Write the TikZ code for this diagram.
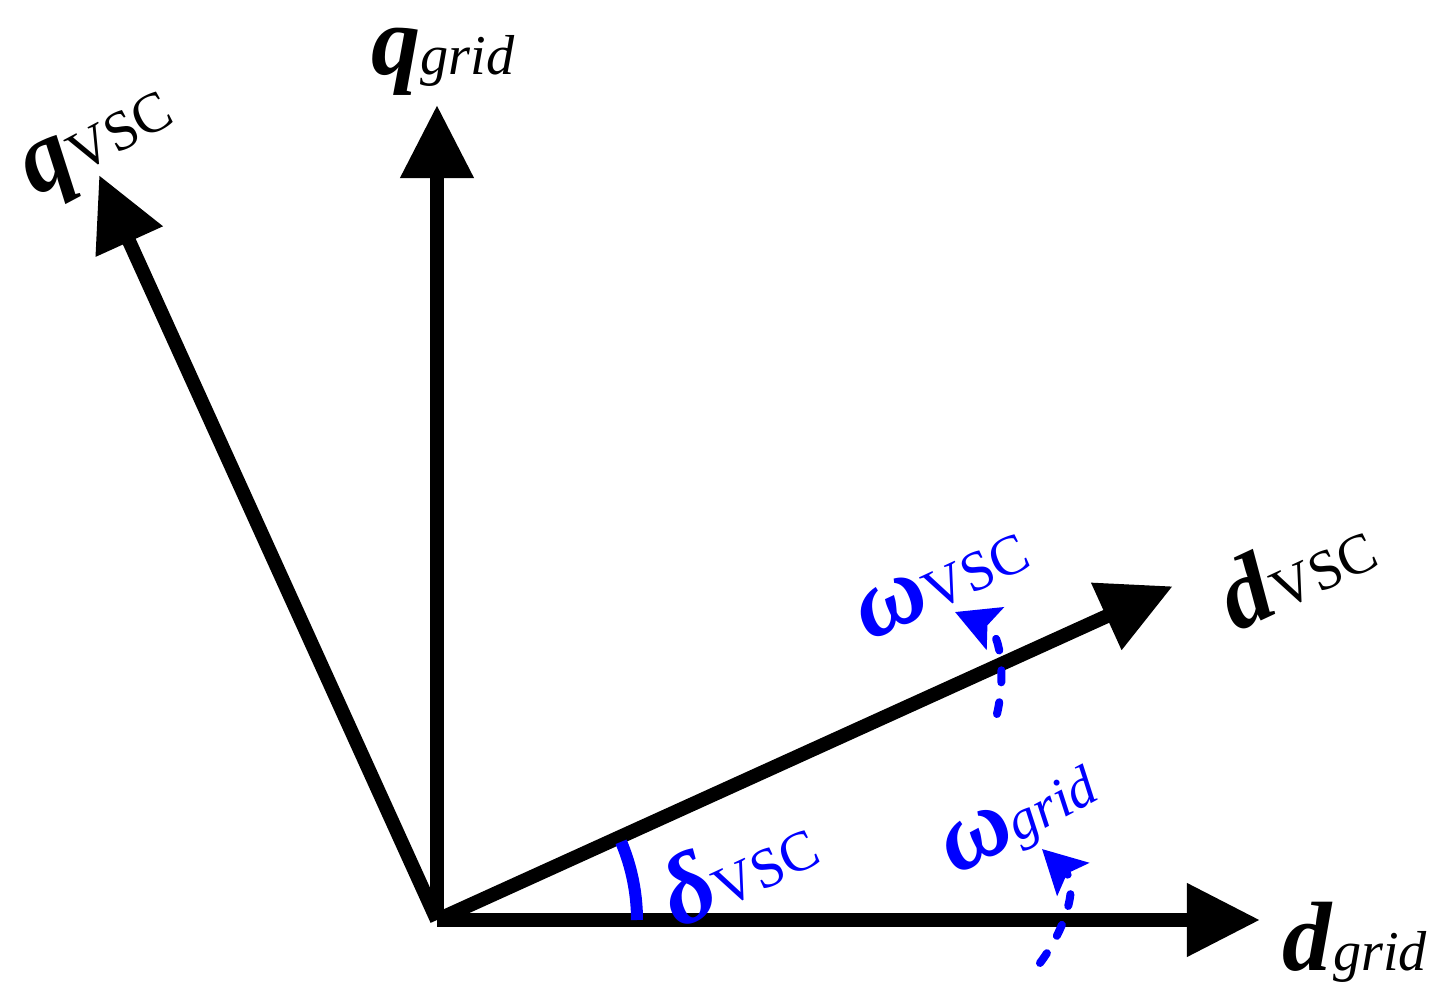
\documentclass[tikz,border=0pt]{standalone}
\usepackage{fontspec}
\setmainfont{Liberation Serif}
\usetikzlibrary{arrows.meta}
\newcommand{\vscangle}{24.4}
\newcommand{\axwidth}{0.14cm}
\newcommand{\rotcolor}{blue}
\newcommand{\bigsize}{\fontsize{28pt}{28pt}\selectfont}
\newcommand{\subsize}{\fontsize{16pt}{16pt}\selectfont}
\newcommand{\axlabel}[2]{\textbf{\textit{#1}}{\subsize #2}}

\begin{document}
\begin{tikzpicture}[x=0.01cm, y=0.01cm, >={Triangle[length=0.73cm, width=0.70cm]},
    axis/.style={line width=\axwidth, ->},
    rotarrow/.style={\rotcolor, line width=0.08cm, line cap=round,
      dash pattern=on 0.12cm off 0.2cm, -{Stealth[length=0.43cm, width=0.45cm, inset=0.08cm]}},
    lbl/.style={font=\bigsize, inner sep=0pt}]
        \useasboundingbox (-437,-73) rectangle (1019,920);

        \coordinate (O) at (0, 0);
        \coordinate (dgrid) at (823, 0);
        \coordinate (qgrid) at (0, 815);
        \coordinate (dvsc) at (\vscangle:808);
        \coordinate (qvsc) at (\vscangle+90:818);

        % axes
        \draw[axis] (O) -- (dgrid);
        \draw[axis] (O) -- (qgrid);
        \draw[axis] (O) -- (dvsc);
        \draw[axis] (O) -- (qvsc);

        % angle
        \draw[\rotcolor, line width=0.12cm] ([shift={(200,0)}]O) arc[start angle=0, end angle=23, radius=2cm];

        % rotation arrows
        \coordinate (wvscA) at (560, 206);
        \coordinate (wvscB) at (518, 308);
        \coordinate (wgridA) at (603, -43);
        \coordinate (wgridB) at (605, 71);
        \draw[rotarrow] (wvscA) .. controls (570, 250) and (562, 290) .. (wvscB);
        \draw[rotarrow] (wgridA) .. controls (628, -10) and (642, 35) .. (wgridB);

        % labels
        \node[lbl] (qgridlbl) at (6, 858) {\axlabel{q}{\textit{grid}}};
        \node[lbl] (dgridlbl) at (918, -22) {\axlabel{d}{\textit{grid}}};
        \node[lbl, rotate=28] (qvsclbl) at (-336, 772) {\axlabel{q}{VSC}};
        \node[lbl, rotate=25] (dvsclbl) at (858, 352) {\axlabel{d}{VSC}};
        \node[lbl, \rotcolor, rotate=25] (wvsclbl) at (505, 337) {\axlabel{ω}{VSC}};
        \node[lbl, \rotcolor, rotate=25] (dellbl) at (300, 55) {\axlabel{δ}{VSC}};
        \node[lbl, \rotcolor, rotate=28] (wgridlbl) at (584, 98) {\axlabel{ω}{\textit{grid}}};
    \end{tikzpicture}
\end{document}
